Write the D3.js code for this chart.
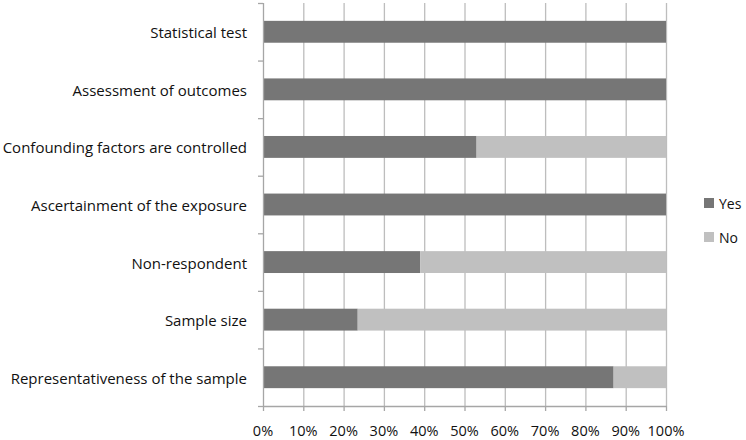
<!DOCTYPE html>
<html><head><meta charset="utf-8">
<script src="https://cdn.jsdelivr.net/npm/d3@7"></script>
<style>body{margin:0;background:#fff}svg{display:block}</style>
</head><body><svg id="c" width="746" height="440"></svg>
<script>
const categories = ["Statistical test","Assessment of outcomes","Confounding factors are controlled","Ascertainment of the exposure","Non-respondent","Sample size","Representativeness of the sample"];
const yesValues = [100,100,53,100,39,23.5,87];
const noValues = [0,0,47,0,61,76.5,13];
const seriesNames = ["Yes","No"];
const seriesColors = ["#767676","#c0c0c0"];
const xTicks = [0,10,20,30,40,50,60,70,80,90,100];

(function(){
const svg = d3.select("#c");
const pL = 263, pR = 666, pT = 3, pB = 406;
const font = "'Open Sans', sans-serif";
const x = d3.scaleLinear().domain([0,100]).range([pL,pR]);
const y = d3.scaleBand().domain(categories).range([pT,pB]).paddingInner(0.62).paddingOuter(0.31);
const yOuter = d3.scaleBand().domain(categories).range([pT,pB]);

// gridlines
svg.append("g").selectAll("line").data(xTicks.slice(1)).join("line")
  .attr("x1",d=>x(d)+0.5).attr("x2",d=>x(d)+0.5).attr("y1",pT).attr("y2",pB)
  .attr("stroke","#bdbdbd").attr("stroke-width",1.3);

// stacked bars
const data = categories.map((c,i)=>({cat:c,Yes:yesValues[i],No:noValues[i]}));
const stack = d3.stack().keys(seriesNames)(data);
svg.append("g").selectAll("g").data(stack).join("g")
  .attr("fill",(d,i)=>seriesColors[i])
  .selectAll("rect").data(d=>d).join("rect")
  .attr("x",d=>x(d[0])).attr("width",d=>x(d[1])-x(d[0]))
  .attr("y",d=>y(d.data.cat)).attr("height",y.bandwidth());

// left axis
const ax = "#a6a6a6";
svg.append("line").attr("x1",pL+0.5).attr("x2",pL+0.5).attr("y1",pT).attr("y2",pB).attr("stroke",ax).attr("stroke-width",1.3);
const bounds = categories.map(c=>yOuter(c)).concat([pB]);
svg.append("g").selectAll("line").data(bounds).join("line")
  .attr("x1",pL-5).attr("x2",pL).attr("y1",d=>d+0.5).attr("y2",d=>d+0.5).attr("stroke",ax).attr("stroke-width",1.3);
// bottom axis
svg.append("line").attr("x1",pL).attr("x2",pR+1).attr("y1",pB+0.5).attr("y2",pB+0.5).attr("stroke",ax).attr("stroke-width",1.3);
svg.append("g").selectAll("line").data(xTicks).join("line")
  .attr("x1",d=>x(d)+0.5).attr("x2",d=>x(d)+0.5).attr("y1",pB).attr("y2",pB+5).attr("stroke",ax).attr("stroke-width",1.3);

// labels
svg.append("g").selectAll("text").data(xTicks).join("text")
  .attr("x",d=>x(d)).attr("y",pB+30).attr("text-anchor","middle")
  .attr("font-family",font).attr("font-size",14.5).attr("fill","#111")
  .text(d=>d+"%");
svg.append("g").selectAll("text").data(categories).join("text")
  .attr("x",247).attr("y",d=>y(d)+y.bandwidth()/2+6.5).attr("text-anchor","end")
  .attr("font-family",font).attr("font-size",15).attr("fill","#111")
  .text(d=>d);

// legend
const lg = svg.append("g").selectAll("g").data(seriesNames).join("g")
  .attr("transform",(d,i)=>`translate(704,${198+i*34})`);
lg.append("rect").attr("width",10).attr("height",10).attr("fill",(d,i)=>seriesColors[i]);
lg.append("text").attr("x",15).attr("y",10.5).attr("font-family",font).attr("font-size",14).attr("fill","#111").text(d=>d);
})();
</script></body></html>
